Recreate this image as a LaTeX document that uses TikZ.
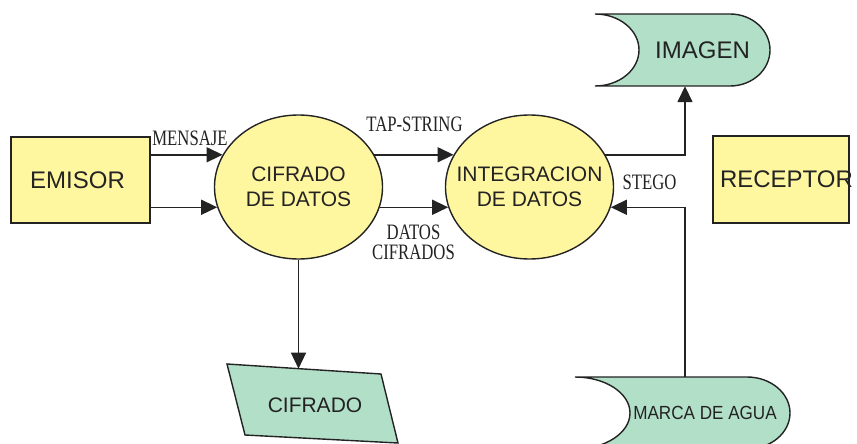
\documentclass[tikz,border=0pt]{standalone}
\usepackage{fontspec}
\setmainfont{Liberation Sans}
\newfontfamily\lblfont[FakeStretch=0.76]{Liberation Serif}
\usetikzlibrary{arrows.meta,shapes.geometric,calc}
\definecolor{procyellow}{RGB}{255,246,160}
\definecolor{storegreen}{RGB}{178,223,200}
\definecolor{ink}{RGB}{35,35,35}
\begin{document}
\begin{tikzpicture}[x=1pt,y=-1pt,
 entity/.style={draw=ink, line width=1.4pt, fill=procyellow, rectangle, inner sep=0pt},
 process/.style={draw=ink, line width=1.4pt, fill=procyellow, ellipse, minimum width=168pt, minimum height=144pt, inner sep=0pt},
 store/.style={draw=ink, line width=1.4pt, fill=storegreen},
 bigtxt/.style={font=\fontsize{24}{26}\selectfont, text=ink},
 proctxt/.style={font=\fontsize{21}{25}\selectfont, align=center, text=ink},
 flow/.style={draw=ink, line width=1.5pt, -{Triangle[length=16pt,width=15pt]}},
 flowlabel/.style={font=\lblfont\fontsize{22}{20}\selectfont, text=ink, inner sep=0pt},
 holder/.style={inner sep=0pt, rectangle},
]
\fill[white] (0,0) rectangle (857,444);
\useasboundingbox (0,0) rectangle (857,444);
\clip (0,0) rectangle (857,444);

% external entities
\node[entity, minimum width=139pt, minimum height=86pt, label={[bigtxt, xshift=-3pt]center:EMISOR}] (emisor) at (80.5,180) {};
\node[entity, minimum width=136pt, minimum height=87pt, label={[bigtxt, xshift=5.5pt]center:RECEPTOR}] (receptor) at (781,179.5) {};

% processes
\node[process, label={[proctxt]center:CIFRADO\\DE DATOS}] (cifrado) at (298.5,187) {};
\node[process, label={[proctxt]center:INTEGRACION\\DE DATOS}] (integ) at (529.5,187) {};

% stores
\path[store] (595,14) -- (730,14) .. controls (752.1,14) and (770,30.1) .. (770,50) .. controls (770,69.9) and (752.1,86) .. (730,86) -- (595,86) .. controls (619.3,86) and (639,69.9) .. (639,50) .. controls (639,30.1) and (619.3,14) .. (595,14) -- cycle;
\node[holder, minimum width=175pt, minimum height=72pt, label={[bigtxt, xshift=20pt]center:IMAGEN}] (imagen) at (682.5,50) {};

\path[store] (575,377) -- (747,377) .. controls (770.7,377) and (790,393.1) .. (790,413) .. controls (790,432.9) and (770.7,449) .. (747,449) -- (575,449) .. controls (605.4,449) and (630,432.9) .. (630,413) .. controls (630,393.1) and (605.4,377) .. (575,377) -- cycle;
\node[holder, minimum width=215pt, minimum height=72pt, label={[font=\fontsize{19}{19}\selectfont, text=ink, xshift=22.5pt]center:\scalebox{0.9}[1]{MARCA DE AGUA}}] (marca) at (682.5,413) {};

\path[store] (227,364) -- (381,374) -- (398,443) -- (245,435) -- cycle;
\node[font=\fontsize{21}{21}\selectfont, text=ink] (cifr2) at (315,405) {CIFRADO};
\coordinate (cifrtop) at (298.5,368.7);

% flows
\draw[flow] (emisor.east |- cifrado.157) -- (cifrado.157);
\draw[flow] (emisor.east |- cifrado.194) -- (cifrado.194);
\draw[flow] (cifrado.23) -- (integ.157);
\draw[flow] (cifrado.-14) -- (integ.194);
\draw[flow] (integ.23) -| ([xshift=2.5pt]imagen.south);
\draw[flow] ([xshift=2.5pt]marca.north) |- (integ.-14);
\draw[flow] (cifrado.south) -- (cifrtop);

% flow labels
\node[flowlabel] (lmens) at (190,138) {MENSAJE};
\node[flowlabel] (ltap) at (414.5,124) {TAP-STRING};
\node[flowlabel, align=center] (ldatos) at (413.5,242) {DATOS\\CIFRADOS};
\node[flowlabel] (lstego) at (649.5,182) {STEGO};
\end{tikzpicture}
\end{document}
